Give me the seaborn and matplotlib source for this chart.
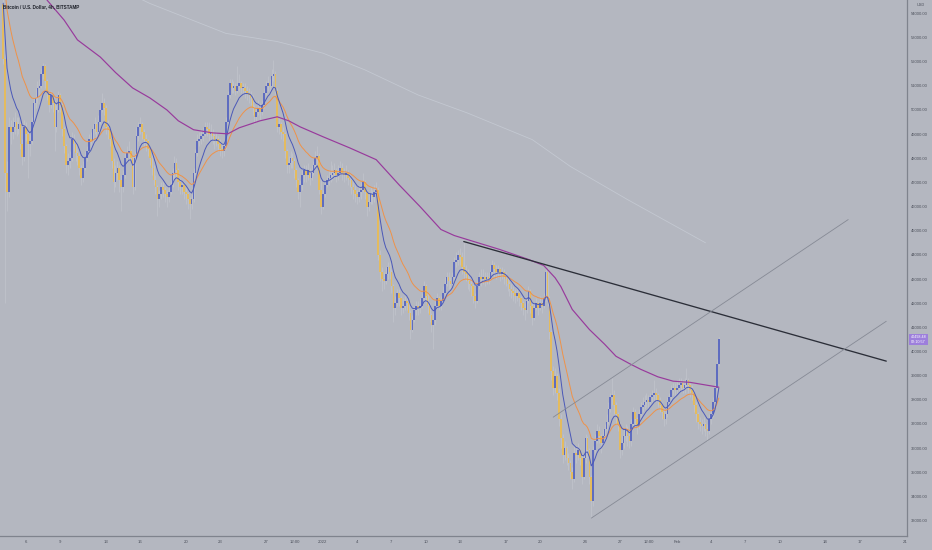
import numpy as np
import pandas as pd
import matplotlib
matplotlib.use("Agg")
import matplotlib.pyplot as plt
import matplotlib.dates as mdates
import matplotlib.transforms as mtransforms
import seaborn as sns

# ---------------- data ----------------
title = "Bitcoin / U.S. Dollar, 4h, BITSTAMP"
currency = "USD"
first_time = "2021-12-04 00:00"
bar_hours = 4
first_open = 54400

close = [
    52100, 47400, 46600, 49300, 49100, 49300,   # Dec 04
    49500, 49200, 49400, 48600, 48050, 49300,   # Dec 05
    49000, 48600, 48700, 49500, 50300, 50500,   # Dec 06
    50900, 51000, 51500, 51800, 51200, 50700,   # Dec 07
    50200, 50600, 50300, 49300, 50000, 50600,   # Dec 08
    50200, 49200, 48500, 47700, 47900, 48000,   # Dec 09
    48800, 48600, 48200, 48100, 47600, 47200,   # Dec 10
    47600, 48000, 48300, 48800, 48700, 49200,   # Dec 11
    49400, 49100, 49500, 50000, 50300, 50100,   # Dec 12
    49300, 49200, 48800, 47900, 47000, 47400,   # Dec 13
    47600, 47100, 46800, 47300, 48000, 48200,   # Dec 14
    48300, 48000, 46800, 48000, 48900, 49300,   # Dec 15
    49400, 49100, 48800, 48700, 48400, 48000,   # Dec 16
    47600, 47100, 46800, 46300, 46500, 46800,   # Dec 17
    46700, 46500, 46400, 46600, 46900, 47400,   # Dec 18
    47800, 47500, 47000, 46800, 46900, 46600,   # Dec 19
    46500, 46300, 46100, 46300, 47400, 48200,   # Dec 20
    48700, 48800, 48900, 49000, 49300, 49200,   # Dec 21
    49000, 49100, 48900, 48700, 48800, 48600,   # Dec 22
    48400, 48300, 48500, 49500, 50600, 51100,   # Dec 23
    50900, 51000, 50800, 51000, 51100, 50900,   # Dec 24
    50900, 50800, 50700, 50600, 50500, 50100,   # Dec 25
    49700, 49900, 50100, 49900, 50200, 50700,   # Dec 26
    51000, 51100, 51000, 51400, 51500, 50800,   # Dec 27
    49300, 49400, 49100, 49000, 48300, 47700,   # Dec 28
    47800, 48000, 47900, 47500, 47100, 46600,   # Dec 29
    46900, 47300, 47500, 47300, 47500, 47200,   # Dec 30
    47400, 47700, 48000, 48100, 46700, 46000,   # Dec 31
    46500, 46900, 47100, 47200, 47300, 47400,   # Jan 01
    47500, 47300, 47400, 47600, 47400, 47300,   # Jan 02
    47400, 47200, 47100, 46800, 46700, 46500,   # Jan 03
    46400, 46600, 46700, 47000, 46600, 46000,   # Jan 04
    46200, 46500, 46400, 46600, 46700, 44000,   # Jan 05
    43300, 43000, 42900, 43200, 43500, 43300,   # Jan 06
    42700, 41800, 42000, 42400, 42200, 41800,   # Jan 07
    41900, 42100, 42000, 41600, 40900, 41300,   # Jan 08
    41700, 41900, 41800, 41900, 42200, 42700,   # Jan 09
    42300, 41900, 41500, 41100, 41300, 41900,   # Jan 10
    42200, 41900, 42100, 42400, 42800, 43100,   # Jan 11
    42900, 42800, 43100, 43700, 43800, 44000,   # Jan 12
    43900, 43500, 43300, 43200, 42900, 42800,   # Jan 13
    42700, 42300, 42100, 42700, 43100, 43000,   # Jan 14
    43100, 43000, 43100, 43000, 43300, 43600,   # Jan 15
    43400, 43300, 43400, 43200, 43300, 43100,   # Jan 16
    43000, 42800, 42600, 42500, 42400, 42300,   # Jan 17
    42400, 42200, 42000, 41800, 41700, 42100,   # Jan 18
    42500, 41900, 41400, 41800, 42000, 41800,   # Jan 19
    42000, 41900, 42200, 43300, 42200, 40800,   # Jan 20
    39200, 38500, 39000, 38300, 37200, 36400,   # Jan 21
    35700, 36000, 35600, 35400, 35000, 34700,   # Jan 22
    35800, 35700, 35900, 35600, 34800, 35600,   # Jan 23
    36400, 35900, 34800, 33800, 35900, 36300,   # Jan 24
    36700, 36500, 36200, 36500, 36800, 37100,   # Jan 25
    37600, 38100, 38200, 37800, 37400, 37000,   # Jan 26
    35900, 36200, 36500, 36800, 36500, 36300,   # Jan 27
    37000, 37500, 37200, 36900, 37400, 37700,   # Jan 28
    37800, 37900, 38000, 37900, 38100, 38200,   # Jan 29
    38300, 38200, 38000, 37800, 37500, 37200,   # Jan 30
    37400, 37900, 38100, 38400, 38500, 38400,   # Jan 31
    38500, 38600, 38700, 38500, 38600, 38800,   # Feb 01
    38600, 38400, 38300, 37800, 37400, 37100,   # Feb 02
    37000, 36900, 37000, 36800, 36700, 37200,   # Feb 03
    37400, 37900, 38500, 39500, 40498.48,       # Feb 04
]

high = [
    54700, 52300, 47900, 49700, 49600, 49700,
    49900, 49700, 49700, 49500, 48800, 49600,
    49500, 49100, 49000, 49700, 50500, 50900,
    51200, 51300, 51700, 51950, 51900, 51300,
    50800, 50800, 50700, 50400, 50200, 50800,
    50700, 50300, 49300, 48600, 48200, 48300,
    49100, 49000, 48700, 48400, 48200, 47700,
    47900, 48300, 48500, 49000, 49100, 49400,
    49700, 49500, 49800, 50300, 50700, 50500,
    50200, 49600, 49300, 48900, 48000, 47700,
    47900, 47700, 47300, 47500, 48300, 48500,
    48700, 48400, 48100, 48300, 49300, 49500,
    49700, 49500, 49200, 49000, 48800, 48500,
    48200, 47700, 47300, 46900, 46700, 47000,
    47000, 46800, 46700, 46900, 47100, 47600,
    48100, 48000, 47600, 47200, 47100, 47000,
    46800, 46600, 46400, 46500, 47600, 48400,
    49000, 49100, 49200, 49300, 49500, 49500,
    49500, 49400, 49200, 49000, 49100, 48900,
    48800, 48600, 48700, 49700, 50800, 51300,
    51300, 51200, 51100, 51800, 51500, 51200,
    51100, 51100, 51000, 50900, 50800, 50600,
    50200, 50100, 50400, 50300, 50400, 50900,
    51200, 51400, 51300, 51700, 52050, 51600,
    50900, 49700, 49500, 49300, 49100, 48400,
    48100, 48300, 48200, 48000, 47600, 47200,
    47100, 47500, 47700, 47700, 47800, 47600,
    47700, 47900, 48300, 48500, 48200, 47100,
    46700, 47100, 47300, 47500, 47900, 47700,
    47800, 47600, 47700, 47900, 47800, 47600,
    47700, 47500, 47400, 47200, 47000, 46900,
    46700, 46900, 47000, 47400, 47100, 46700,
    46500, 46800, 46700, 46900, 47000, 46800,
    44200, 43500, 43300, 43500, 43700, 43700,
    43400, 42800, 42300, 42600, 42600, 42300,
    42200, 42300, 42300, 42100, 41700, 41500,
    41900, 42100, 42100, 42200, 42400, 42900,
    42800, 42400, 42000, 41600, 41600, 42100,
    42400, 42300, 42300, 42700, 43100, 43300,
    43300, 43100, 43300, 43900, 44100, 44200,
    44300, 44100, 44550, 43600, 43400, 43100,
    43000, 42800, 42400, 42900, 43300, 43400,
    43400, 43300, 43300, 43300, 43600, 43800,
    43700, 43600, 43600, 43500, 43500, 43400,
    43300, 43100, 42900, 42800, 42700, 42600,
    42700, 42500, 42300, 42100, 42000, 42300,
    42700, 42600, 42000, 42000, 42200, 42100,
    42300, 42200, 42400, 43500, 43450, 42300,
    40900, 39400, 39300, 39100, 38500, 37400,
    36600, 36300, 36100, 35800, 35500, 35200,
    36100, 36000, 36200, 36000, 35700, 35800,
    36600, 36500, 36000, 34900, 36100, 36600,
    37000, 36900, 36600, 36800, 37000, 37400,
    37900, 38300, 38900, 38400, 37900, 37500,
    37100, 36500, 36800, 37000, 36900, 36700,
    37200, 37700, 37600, 37300, 37600, 37900,
    38100, 38200, 38300, 38200, 38300, 38400,
    38800, 38500, 38300, 38100, 37900, 37600,
    37600, 38100, 38300, 38600, 38700, 38700,
    38800, 38900, 38900, 38800, 38900, 39300,
    38900, 38700, 38600, 38400, 37900, 37500,
    37300, 37200, 37300, 37100, 37000, 37400,
    37600, 38100, 38700, 39700, 40600,
]

low = [
    51900, 42000, 45800, 46400, 48600, 48800,
    49000, 48900, 49000, 48400, 47700, 47900,
    48700, 47200, 48100, 48600, 49400, 50100,
    50300, 50600, 50900, 51300, 50900, 50400,
    49900, 50100, 49900, 48300, 49100, 49900,
    49900, 48900, 48200, 47400, 47300, 47600,
    47900, 48300, 47900, 47700, 47300, 46900,
    47000, 47500, 47900, 48200, 48400, 48600,
    49000, 48800, 49000, 49400, 49900, 49800,
    49000, 48800, 48500, 47600, 46600, 46800,
    47100, 46600, 45800, 46600, 47200, 47800,
    47900, 47700, 46500, 46700, 47900, 48700,
    49000, 48800, 48500, 48300, 48100, 47700,
    47300, 46900, 46500, 45600, 46000, 46300,
    46400, 46200, 46000, 46200, 46500, 46800,
    47200, 47200, 46700, 46500, 46500, 46300,
    46100, 45900, 45500, 45900, 46200, 47300,
    48100, 48500, 48600, 48700, 48900, 48900,
    48700, 48800, 48600, 48400, 48500, 48300,
    48100, 48000, 48100, 48400, 49400, 50500,
    50700, 50700, 50600, 50700, 50800, 50700,
    50600, 50500, 50400, 50300, 50200, 49800,
    49400, 49500, 49800, 49600, 49800, 50100,
    50600, 50800, 50700, 50900, 51200, 50600,
    49100, 49000, 48800, 48700, 48000, 47400,
    47400, 47600, 47600, 47200, 46800, 46300,
    46000, 46700, 47000, 47000, 47100, 46900,
    47100, 47300, 47600, 47800, 46500, 45700,
    45900, 46400, 46800, 46900, 47000, 47100,
    47200, 47000, 47100, 47300, 47100, 47000,
    47100, 46900, 46800, 46500, 46300, 46200,
    46100, 46200, 46300, 46600, 46300, 45600,
    45800, 46100, 46100, 46200, 46300, 43800,
    42900, 42500, 42600, 42800, 43000, 43000,
    42400, 41200, 41500, 41900, 41900, 41500,
    41600, 41700, 41700, 41300, 40500, 40800,
    41200, 41500, 41500, 41600, 41800, 42100,
    42000, 41600, 41200, 40800, 40100, 41100,
    41800, 41700, 41700, 42000, 42300, 42700,
    42600, 42500, 42700, 43000, 43500, 43600,
    43600, 43200, 43000, 42900, 42600, 42500,
    42300, 42000, 41800, 42000, 42600, 42700,
    42800, 42700, 42800, 42800, 42900, 43200,
    43100, 43000, 43100, 42900, 43000, 42800,
    42700, 42500, 42300, 42200, 42100, 42000,
    42100, 41900, 41700, 41500, 41300, 41600,
    42000, 41600, 41100, 41300, 41700, 41500,
    41700, 41600, 41800, 42100, 41900, 40500,
    38800, 38200, 38300, 38000, 36900, 36000,
    35400, 35500, 35300, 35100, 34700, 34300,
    34600, 35400, 35500, 35300, 34500, 34700,
    35400, 35600, 34500, 33100, 33600, 35800,
    36200, 36200, 35800, 36100, 36400, 36700,
    37000, 37500, 37800, 37400, 37000, 36700,
    35600, 35700, 36000, 36300, 36100, 36000,
    36100, 36800, 36900, 36600, 36800, 37300,
    37500, 37600, 37700, 37600, 37800, 37900,
    38000, 37900, 37700, 37500, 37200, 36900,
    37000, 37300, 37800, 38000, 38200, 38100,
    38200, 38300, 38400, 38300, 38300, 38500,
    38300, 38100, 38000, 37500, 37100, 36800,
    36700, 36600, 36700, 36500, 36300, 36600,
    37000, 37300, 37800, 38400, 39400,
]

last_price_label = "40498.48"
countdown_label = "02:10:57"

# moving averages drawn on the chart
ema_fast_len, ema_fast_seed = 9, 55000
ema_slow_len, ema_slow_seed = 21, 56000

ma_slow_times = ["2021-12-07 20:00", "2021-12-09 08:00", "2021-12-10 12:00", "2021-12-12 12:00",
                 "2021-12-13 20:00", "2021-12-15 08:00", "2021-12-16 20:00", "2021-12-18 08:00",
                 "2021-12-19 08:00", "2021-12-20 16:00", "2021-12-22 08:00", "2021-12-23 16:00",
                 "2021-12-24 16:00", "2021-12-26 12:00", "2021-12-28 00:00", "2021-12-29 00:00",
                 "2021-12-30 00:00", "2022-01-01 00:00", "2022-01-03 08:00", "2022-01-05 16:00",
                 "2022-01-07 16:00", "2022-01-09 12:00", "2022-01-11 08:00", "2022-01-12 12:00",
                 "2022-01-13 16:00", "2022-01-16 12:00", "2022-01-19 00:00", "2022-01-20 08:00",
                 "2022-01-20 16:00", "2022-01-21 08:00", "2022-01-21 20:00", "2022-01-22 20:00",
                 "2022-01-24 08:00", "2022-01-25 16:00", "2022-01-26 16:00", "2022-01-27 20:00",
                 "2022-01-28 20:00", "2022-01-30 08:00", "2022-01-31 16:00", "2022-02-02 04:00",
                 "2022-02-04 16:00"]
ma_slow_values = [54550, 53720, 52900, 52190, 51550, 50910, 50500, 50000, 49550, 49180, 49050,
                  49010, 49260, 49550, 49715, 49550, 49300, 48890, 48430, 47940, 46900, 46000,
                  45050, 44800, 44630, 44220, 43810, 43560, 43390, 43050, 42690, 41740, 40910,
                  40300, 39800, 39500, 39260, 38950, 38770, 38720, 38520]

ma_long_times = ["2021-12-16 00:00", "2021-12-16 20:00", "2021-12-23 12:00", "2021-12-28 00:00",
                 "2022-01-01 00:00", "2022-01-04 16:00", "2022-01-09 08:00", "2022-01-13 16:00",
                 "2022-01-19 08:00", "2022-01-22 16:00", "2022-01-27 16:00", "2022-02-03 12:00"]
ma_long_values = [54600, 54410, 53170, 52830, 52350, 51660, 50620, 49870, 48770, 47660, 46290, 44500]

trend_times = ["2022-01-13 08:00", "2022-02-19 08:00"]
trend_prices = [44550, 39600]
chan_up_times = ["2022-01-21 04:00", "2022-02-16 00:00"]
chan_up_prices = [37280, 45460]
chan_lo_times = ["2022-01-24 12:00", "2022-02-19 08:00"]
chan_lo_prices = [33100, 41250]

price_ticks = list(range(33000, 54001, 1000))
date_tick_times = ["2021-12-06 00:00", "2021-12-09 00:00", "2021-12-13 00:00", "2021-12-16 00:00",
                   "2021-12-20 00:00", "2021-12-23 00:00", "2021-12-27 00:00", "2021-12-29 12:00",
                   "2022-01-01 00:00", "2022-01-04 00:00", "2022-01-07 00:00", "2022-01-10 00:00",
                   "2022-01-13 00:00", "2022-01-17 00:00", "2022-01-20 00:00", "2022-01-24 00:00",
                   "2022-01-27 00:00", "2022-01-29 12:00", "2022-02-01 00:00", "2022-02-04 00:00",
                   "2022-02-07 00:00", "2022-02-10 00:00", "2022-02-14 00:00", "2022-02-17 00:00",
                   "2022-02-21 00:00"]
date_tick_labels = ["6", "9", "13", "16", "20", "23", "27", "12:00", "2022", "4", "7", "10", "13",
                    "17", "20", "24", "27", "12:00", "Feb", "4", "7", "10", "14", "17", "21"]

view_start, view_end = "2021-12-03 17:15", "2022-02-21 03:35"
price_min, price_max = 32360, 54551

# ---------------- style ----------------
bg = "#b4b7c0"
up_col = "#5e6cc0"
down_col = "#e4bb5e"
wick_col = "#c6c9d1"

sns.set_theme(style="white", rc={"axes.facecolor": bg, "figure.facecolor": bg,
                                 "savefig.facecolor": bg})
plt.rcParams["font.family"] = ["Liberation Sans", "DejaVu Sans"]

n = len(close)
assert len(high) == n and len(low) == n
times = pd.date_range(first_time, periods=n, freq=f"{bar_hours}h")
x = mdates.date2num(times.to_pydatetime())
c = np.array(close, dtype=float)
o = np.concatenate([[first_open], c[:-1]])
h = np.maximum(np.array(high, dtype=float), np.maximum(o, c))
l = np.minimum(np.array(low, dtype=float), np.minimum(o, c))


def ema(vals, length, seed):
    a = 2.0 / (length + 1)
    out, e = [], seed
    for v in vals:
        e = e + a * (v - e)
        out.append(e)
    return np.array(out)


ema_fast = ema(c, ema_fast_len, ema_fast_seed)
ema_slow = ema(c, ema_slow_len, ema_slow_seed)


def tnum(lst):
    return np.array([mdates.date2num(pd.Timestamp(s).to_pydatetime()) for s in lst])


W, H = 932, 550
fig = plt.figure(figsize=(W / 100, H / 100), dpi=100)
ax = fig.add_axes([0, 14 / H, 907 / W, 536 / H])
ax.set_facecolor(bg)

bar_w = bar_hours / 24 * 0.88
up = c >= o
ax.vlines(x, l, h, colors=wick_col, linewidth=0.45, alpha=0.8, zorder=1)
body_lo = np.minimum(o, c)
body_h = np.maximum(np.abs(c - o), 50)
ax.bar(x[up], body_h[up], bottom=body_lo[up], width=bar_w, color=up_col, linewidth=0, zorder=2)
ax.bar(x[~up], body_h[~up], bottom=body_lo[~up], width=bar_w, color=down_col, linewidth=0, zorder=2)

sns.lineplot(x=tnum(ma_long_times), y=ma_long_values, ax=ax, color="#d0d6df", linewidth=0.6,
             alpha=0.55, estimator=None, sort=False, zorder=1.5)
sns.lineplot(x=x, y=ema_slow, ax=ax, color="#ef9248", linewidth=0.7, estimator=None, sort=False, zorder=3)
sns.lineplot(x=x, y=ema_fast, ax=ax, color="#4a58b8", linewidth=0.7, estimator=None, sort=False, zorder=3)
sns.lineplot(x=tnum(ma_slow_times), y=ma_slow_values, ax=ax, color="#983a9c", linewidth=0.85,
             estimator=None, sort=False, zorder=3)

sns.lineplot(x=tnum(trend_times), y=trend_prices, ax=ax, color="#2b2e38", linewidth=0.95,
             estimator=None, sort=False, zorder=4)
sns.lineplot(x=tnum(chan_up_times), y=chan_up_prices, ax=ax, color="#868a95", linewidth=0.6,
             estimator=None, sort=False, zorder=4)
sns.lineplot(x=tnum(chan_lo_times), y=chan_lo_prices, ax=ax, color="#868a95", linewidth=0.6,
             estimator=None, sort=False, zorder=4)

ax.set_xlim(tnum([view_start])[0], tnum([view_end])[0])
ax.set_ylim(price_min, price_max)

for s in ["top", "left"]:
    ax.spines[s].set_visible(False)
for s in ["right", "bottom"]:
    ax.spines[s].set_visible(True)
    ax.spines[s].set_color("#7f838d")
    ax.spines[s].set_linewidth(0.9)

ax.yaxis.tick_right()
ax.set_yticks(price_ticks)
ax.set_yticklabels([f"{v:.2f}" for v in price_ticks])
ax.tick_params(axis="y", length=0, pad=2.5, labelsize=3.0, labelcolor="#4d515c")
ax.set_xticks(tnum(date_tick_times))
ax.set_xticklabels(date_tick_labels)
ax.tick_params(axis="x", length=0, pad=2.8, labelsize=3.1, labelcolor="#4d515c")
ax.set_xlabel("")
ax.set_ylabel("")
ax.grid(False)

ax.text(0.003, 1 - 7 / 536, title, transform=ax.transAxes, ha="left", va="center",
        fontsize=3.3, color="#1f222b", fontweight="bold")
fig.text(921 / W, 1 - 5 / H, currency, ha="center", va="center", fontsize=2.8, color="#4d515c")

trans = mtransforms.blended_transform_factory(ax.transAxes, ax.transData)
ax.text(1.004, c[-1], f"{last_price_label}\n{countdown_label}", transform=trans, ha="left",
        va="center", fontsize=2.7, color="white", linespacing=1.15, clip_on=False, zorder=10,
        bbox=dict(boxstyle="square,pad=0.35", fc="#9d7fdc", ec="none"))

fig.savefig("out.png", dpi=100, facecolor=bg)
